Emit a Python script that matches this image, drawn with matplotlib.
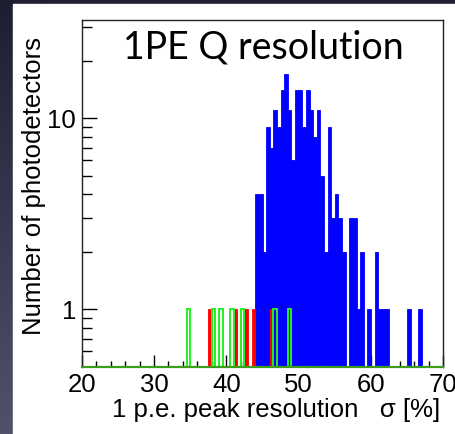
import numpy as np
import matplotlib
matplotlib.use("Agg")
import matplotlib.pyplot as plt
from matplotlib.patches import Rectangle
from matplotlib.ticker import FixedLocator, NullFormatter

# histogram bins are 0.5 wide
bin_width = 0.5

blue_left = [44.0, 44.5, 45.0, 45.5, 46.0, 46.5, 47.0, 47.5, 48.0, 48.5,
             49.0, 49.5, 50.0, 50.5, 51.0, 51.5, 52.0, 52.5, 53.0, 53.5,
             54.0, 54.5, 55.0, 55.5, 56.0, 57.0, 57.5, 58.0, 58.5, 59.5,
             60.5, 61.0, 61.5, 62.0, 65.0, 66.5]
blue_counts = [4, 4, 2, 9, 7, 11, 9, 14, 17, 11,
               6, 14, 14, 9, 14, 11, 8, 11, 5, 2,
               9, 3, 4, 3, 2, 3, 3, 1, 2, 1,
               2, 1, 1, 1, 1, 1]

red_left = [37.5, 41.0, 42.5, 43.5, 46.0]
red_counts = [1, 1, 1, 1, 1]

green_left = [34.5, 38.0, 39.0, 40.5, 42.0, 46.5, 48.5]
green_counts = [1, 1, 1, 1, 1, 1, 1]

x_major = [20, 30, 40, 50, 60, 70]
x_minor = [22, 24, 26, 28, 32, 34, 36, 38, 42, 44, 46, 48,
           52, 54, 56, 58, 62, 64, 66, 68]
y_major = [1, 10]
y_minor = [0.6, 0.7, 0.8, 0.9, 2, 3, 4, 5, 6, 7, 8, 9, 20, 30]

W, H = 455, 434
fig = plt.figure(figsize=(W / 100, H / 100), dpi=100)

# slide background: dark gradient with white panel
bg = fig.add_axes([0, 0, 1, 1], zorder=-10)
grad = np.linspace(0, 1, 256)[:, None]
top = np.array([30, 30, 50]) / 255
bot = np.array([80, 82, 108]) / 255
img = top + (bot - top) * grad[:, :, None]
bg.imshow(img, extent=[0, 1, 0, 1], aspect="auto", origin="upper")
bg.add_patch(Rectangle((13 / W, 0), 1, (H - 4) / H, color="white"))
bg.set_xlim(0, 1)
bg.set_ylim(0, 1)
bg.axis("off")

ax = fig.add_axes([81.7 / W, 67.5 / H, (443.3 - 81.7) / W, (366.5 - 20) / H])
ax.set_yscale("log")

ax.bar(blue_left, blue_counts, width=bin_width, align="edge",
       color="#0000ff", edgecolor="#0000ff", linewidth=0.6, zorder=2)
ax.bar(red_left, red_counts, width=bin_width, align="edge",
       color="#ff0000", edgecolor="#ff0000", linewidth=0.6, zorder=3)
ax.bar(green_left, green_counts, width=bin_width, align="edge",
       fill=False, edgecolor="#22f022", linewidth=1.4, zorder=4)

ax.set_xlim(20, 70)
ax.set_ylim(0.5, 32.6)

ax.xaxis.set_major_locator(FixedLocator(x_major))
ax.xaxis.set_minor_locator(FixedLocator(x_minor))
ax.yaxis.set_major_locator(FixedLocator(y_major))
ax.yaxis.set_minor_locator(FixedLocator(y_minor))
ax.yaxis.set_minor_formatter(NullFormatter())
ax.set_xticklabels([str(v) for v in x_major])
ax.set_yticklabels([str(v) for v in y_major])

for lab in ax.get_xticklabels() + ax.get_yticklabels():
    lab.set_fontfamily("Liberation Sans")
    lab.set_fontsize(18.5)

ax.tick_params(axis="x", which="major", direction="in", length=9, width=1,
               pad=5, top=False)
ax.tick_params(axis="x", which="minor", direction="in", length=4.5, width=1,
               top=False)
ax.tick_params(axis="y", which="major", direction="in", length=11, width=1,
               pad=4, right=False)
ax.tick_params(axis="y", which="minor", direction="in", length=7, width=1,
               right=False)

for s in ["left", "right", "top"]:
    ax.spines[s].set_linewidth(1.0)
    ax.spines[s].set_color("#222222")
ax.spines["bottom"].set_color("#3c9c1c")
ax.spines["bottom"].set_linewidth(1.6)
ax.spines["bottom"].set_zorder(5)

# title inside the frame
fig.text(263.5 / W, (H - 58.5) / H, "1PE Q resolution", family="Lato",
         fontsize=27, ha="center", va="baseline")

fig.text(34 / W, (H - 37) / H, "Number of photodetectors", rotation=90,
         family="Liberation Sans", fontsize=18.5, ha="center", va="top")
fig.text(440 / W, (H - 416.7) / H, "1 p.e. peak resolution   \u03c3 [%]",
         family="Liberation Sans", fontsize=18.5, ha="right", va="baseline")

fig.savefig("out.png", dpi=100)
